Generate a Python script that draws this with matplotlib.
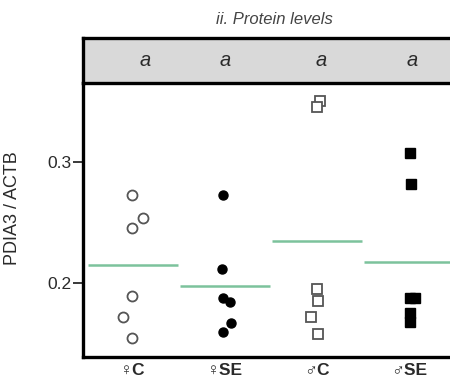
import numpy as np
import matplotlib
matplotlib.use("Agg")
import matplotlib.pyplot as plt

plt.rcParams['font.family'] = ['Liberation Sans', 'DejaVu Sans']

# PDIA3 / ACTB protein ratio per animal
groups = ['♀C', '♀SE', '♂C', '♂SE']
letters = ['a', 'a', 'a', 'a']
female_c = [0.2725, 0.2537, 0.2450, 0.1890, 0.1720, 0.1540]
female_se = [0.2725, 0.2113, 0.1876, 0.1843, 0.1664, 0.1595]
male_c = [0.3504, 0.3455, 0.1945, 0.1851, 0.1719, 0.1576]
male_se = [0.3070, 0.2813, 0.1871, 0.1871, 0.1747, 0.1678]
values = [female_c, female_se, male_c, male_se]

# small horizontal offsets so overlapping points stay visible
jitter = [
    [-0.01, 0.11, -0.01, -0.01, -0.105, -0.01],
    [-0.02, -0.03, -0.02, 0.05, 0.065, -0.02],
    [0.03, 0.0, 0.0, 0.015, -0.06, 0.015],
    [0.01, 0.02, 0.01, 0.065, 0.01, 0.01],
]
letter_shift = [0.13, 0.0, 0.05, 0.03]
styles = [
    dict(marker='o', mfc='white', mec='#555555', ms=7.2, mew=1.3),
    dict(marker='o', mfc='black', mec='black', ms=6.5, mew=1.0),
    dict(marker='s', mfc='white', mec='#555555', ms=6.8, mew=1.3),
    dict(marker='s', mfc='black', mec='black', ms=7.0, mew=1.0),
]

fig = plt.figure(figsize=(4.5, 3.91), dpi=100)
W, H = 450, 391
left, right = 83, 459
ax = fig.add_axes([left / W, 1 - 357 / H, (right - left) / W, (357 - 83) / H])
strip = fig.add_axes([left / W, 1 - 83 / H, (right - left) / W, 45 / H])

for i, (vals, off, st) in enumerate(zip(values, jitter, styles)):
    xs = i + np.array(off)
    ax.plot(xs, vals, linestyle='none', **st, zorder=3)
    ax.hlines(np.mean(vals), i - 0.49, i + 0.49, color='#7cc29c', lw=1.8, zorder=2)

ax.set_xlim(-0.543, 3.543)
ax.set_ylim(0.1386, 0.365)
ax.set_yticks([0.2, 0.3])
ax.set_yticklabels(['0.2', '0.3'])
ax.set_xticks(range(len(groups)))
ax.set_xticklabels(groups, fontweight='bold', color='#2a2a2a')
ax.tick_params(axis='y', length=7, width=1.3, labelsize=12.5, colors='#2a2a2a', pad=1)
ax.tick_params(axis='x', length=0, labelsize=12.5, pad=4)
ax.set_ylabel('PDIA3 / ACTB', fontsize=13, color='#2a2a2a')
ax.yaxis.set_label_coords(-0.165, 0.545)
for s in ['top', 'right']:
    ax.spines[s].set_visible(False)
for s in ['left', 'bottom']:
    ax.spines[s].set_linewidth(2.4)

strip.set_facecolor('#d9d9d9')
strip.set_xlim(ax.get_xlim())
strip.set_ylim(0, 1)
strip.set_xticks([])
strip.set_yticks([])
for s in strip.spines.values():
    s.set_linewidth(2.4)
for i, (t, dx) in enumerate(zip(letters, letter_shift)):
    strip.text(i + dx, 0.5, t, ha='center', va='center', fontsize=14.5,
               fontstyle='italic', color='#2a2a2a')

fig.text(274 / W, 1 - 20 / H, 'ii. Protein levels', ha='center', va='center',
         fontsize=12, fontstyle='italic', color='#444444')

fig.savefig('out.png', dpi=100)
